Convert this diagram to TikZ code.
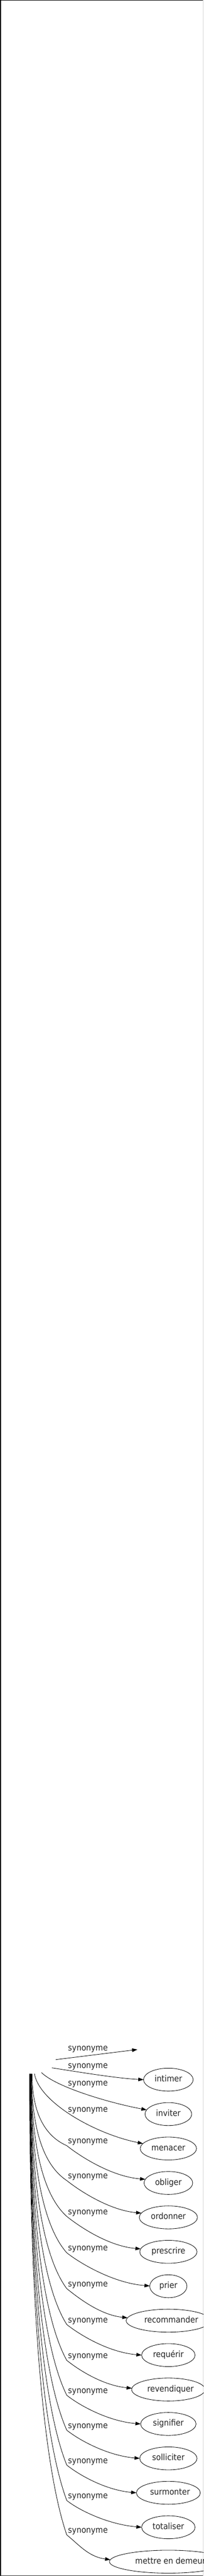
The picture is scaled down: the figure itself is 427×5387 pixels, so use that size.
\documentclass[tikz,border=0pt]{standalone}
\usepackage{fontspec}
\newfontfamily\gvfont{DejaVu Sans Condensed}
\usetikzlibrary{arrows.meta,shapes.geometric}
\begin{document}
\begin{tikzpicture}[x=1pt,y=-1pt,
  font=\gvfont\fontsize{17.9pt}{20pt}\selectfont,
  tgt/.style={ellipse, draw, line width=0.9pt, minimum height=48pt, inner sep=0pt, outer sep=0pt,
    text height=12pt, text depth=3.4pt, text=black!85},
  edgelab/.style={anchor=base west, inner sep=0pt, text=black!85},
  edge/.style={draw, line width=0.9pt, -{Triangle[length=11pt,width=7.5pt]}},
  srcnode/.style={ellipse, minimum width=110pt, minimum height=54pt, inner sep=0pt, outer sep=0pt}]
\useasboundingbox (0,0) rectangle (427,5387);
\fill[white] (0,0) rectangle (427,5387);
\clip (0,0) rectangle (427,5387);
% frame
\draw[line width=2pt] (1,0) -- (1,5387);
\draw[line width=1pt] (0,0.5) -- (427,0.5);
\draw[line width=1pt, black!80] (0,5386) -- (427,5386);
\draw[line width=1.5pt, black!15] (426.2,0) -- (426.2,5387);
% source (invisible)
\node[srcnode] (src) at (62,4310) {};
\coordinate (e0) at (288,4286);
% targets
\node[tgt, minimum width=104pt] (intimer) at (353,4349) {intimer};
\node[tgt, minimum width=98pt] (inviter) at (353,4421) {inviter};
\node[tgt, minimum width=118pt] (menacer) at (353,4493) {menacer};
\node[tgt, minimum width=102pt] (obliger) at (353,4565) {obliger};
\node[tgt, minimum width=122pt] (ordonner) at (353,4637) {ordonner};
\node[tgt, minimum width=120pt] (prescrire) at (353,4709) {prescrire};
\node[tgt, minimum width=78pt] (prier) at (353,4781) {prier};
\node[tgt, minimum width=172pt] (recommander) at (353,4853) {\hspace*{12pt}recommander};
\node[tgt, minimum width=112pt] (requerir) at (353,4925) {requérir};
\node[tgt, minimum width=154pt] (revendiquer) at (353,4997) {\hspace*{9pt}revendiquer};
\node[tgt, minimum width=116pt] (signifier) at (353,5069) {signifier};
\node[tgt, minimum width=120pt] (solliciter) at (353,5141) {solliciter};
\node[tgt, minimum width=134pt] (surmonter) at (353,5213) {\hspace*{7pt}surmonter};
\node[tgt, minimum width=112pt] (totaliser) at (353,5285) {totaliser};
\node[tgt, minimum width=222pt] (mettre) at (353,5357) {\hspace*{18pt}mettre en demeure};
% labels
\node[edgelab] (l0) at (142.5,4288) {synonyme};
\node[edgelab] (l1) at (142.5,4325) {synonyme};
\node[edgelab] (l2) at (142.5,4362) {synonyme};
\node[edgelab] (l3) at (142.5,4417) {synonyme};
\node[edgelab] (l4) at (142.5,4483) {synonyme};
\node[edgelab] (l5) at (142.5,4556) {synonyme};
\node[edgelab] (l6) at (142.5,4631) {synonyme};
\node[edgelab] (l7) at (142.5,4707) {synonyme};
\node[edgelab] (l8) at (142.5,4782) {synonyme};
\node[edgelab] (l9) at (142.5,4857) {synonyme};
\node[edgelab] (l10) at (142.5,4932) {synonyme};
\node[edgelab] (l11) at (142.5,5005) {synonyme};
\node[edgelab] (l12) at (142.5,5078) {synonyme};
\node[edgelab] (l13) at (142.5,5151) {synonyme};
\node[edgelab] (l14) at (142.5,5225) {synonyme};
\node[edgelab] (l15) at (142.5,5297) {synonyme};
% bend points
\coordinate (k4) at (140,4487);
\coordinate (k5) at (140,4560);
\coordinate (k6) at (140,4635);
\coordinate (k7) at (140,4711);
\coordinate (k8) at (140,4786);
\coordinate (k9) at (140,4861);
\coordinate (k10) at (140,4936);
\coordinate (k11) at (140,5009);
\coordinate (k12) at (140,5082);
\coordinate (k13) at (140,5155);
\coordinate (k14) at (140,5229);
\coordinate (k15) at (140,5301);
% edges
\draw[edge] (src.3) -- (e0);
\draw[edge] (src.-17) .. controls +(40,6) and +(-60,-3) .. (intimer.west);
\draw[edge] (src.-44) .. controls +(30,30) and +(-80,-15) .. (inviter.169);
\draw[edge] (src.-69) .. controls +(10,60) and +(-100,-20) .. (menacer.169);
\draw[edge] (src.-79.5) .. controls +(0,75) and +(-50,-22) .. (k4) .. controls +(25,20) and +(-73,-6) .. (obliger.171);
\draw[edge] (src.-81) .. controls +(0,112) and +(-50,-33) .. (k5) .. controls +(25,20) and +(-68,-6) .. (ordonner.171);
\draw[edge] (src.-82) .. controls +(0,149) and +(-50,-45) .. (k6) .. controls +(25,20) and +(-69,-6) .. (prescrire.174);
\draw[edge] (src.-83) .. controls +(0,187) and +(-50,-56) .. (k7) .. controls +(25,20) and +(-78,-6) .. (prier.179);
\draw[edge] (src.-84) .. controls +(0,225) and +(-50,-67) .. (k8) .. controls +(25,20) and +(-57,-6) .. (recommander.176);
\draw[edge] (src.-85) .. controls +(0,262) and +(-50,-79) .. (k9) .. controls +(25,20) and +(-71,-6) .. (requerir.west);
\draw[edge] (src.-86) .. controls +(0,300) and +(-50,-90) .. (k10) .. controls +(25,20) and +(-61,-6) .. (revendiquer.178);
\draw[edge] (src.-87) .. controls +(0,336) and +(-50,-101) .. (k11) .. controls +(25,20) and +(-70,-6) .. (signifier.west);
\draw[edge] (src.-88) .. controls +(0,372) and +(-50,-112) .. (k12) .. controls +(25,20) and +(-69,-6) .. (solliciter.west);
\draw[edge] (src.-88.5) .. controls +(0,409) and +(-50,-123) .. (k13) .. controls +(25,20) and +(-66,-6) .. (surmonter.west);
\draw[edge] (src.-89) .. controls +(0,446) and +(-50,-134) .. (k14) .. controls +(25,20) and +(-71,-6) .. (totaliser.west);
\draw[edge] (src.-90) .. controls +(0,482) and +(-50,-145) .. (k15) .. controls +(25,20) and +(-46,-6) .. (mettre.178);
\end{tikzpicture}
\end{document}
